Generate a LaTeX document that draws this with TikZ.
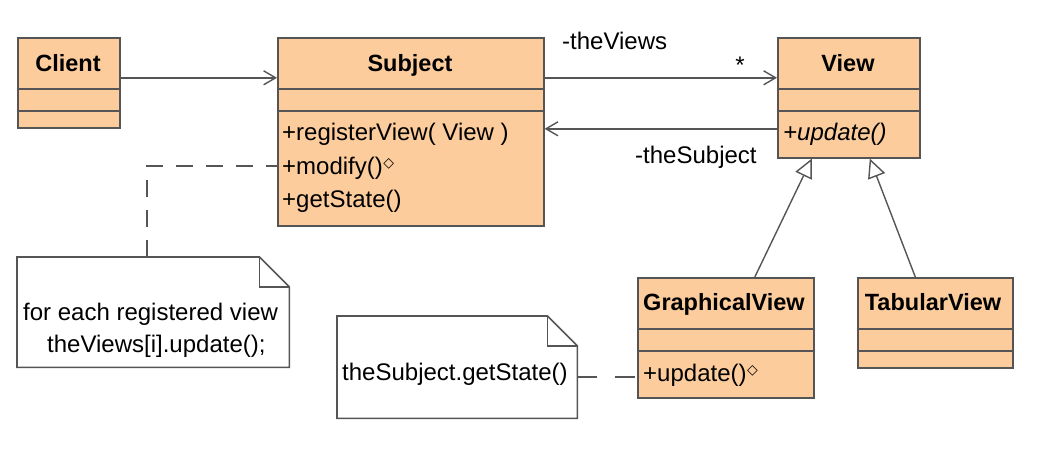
\documentclass[tikz,border=0pt]{standalone}
\usepackage{fontspec}
\setmainfont{Liberation Sans}
\newfontfamily\symf{DejaVu Sans}
\usetikzlibrary{arrows.meta}
\definecolor{peach}{RGB}{252,204,156}
\definecolor{edge}{RGB}{85,85,85}
\newcommand{\opmark}{\kern0.5pt{\symf\fontsize{14}{14}\selectfont\raisebox{6.5pt}{◇}}}
\begin{document}
\begin{tikzpicture}[x=1pt,y=-1pt,
  font=\fontsize{24}{28}\selectfont,
  cls/.style={draw=edge, fill=peach, line width=1.6pt, anchor=north west, inner sep=0pt},
  divider/.style={draw=edge, line width=1.6pt},
  ctitle/.style={font=\fontsize{23.5}{28}\selectfont\bfseries, anchor=base, inner sep=0pt},
  member/.style={anchor=base west, inner sep=0pt},
  lbl/.style={anchor=base west, inner sep=0pt},
  assoc/.style={draw=edge, line width=1.6pt, -{Straight Barb[length=12pt,width=14pt,line width=1.4pt]}},
  inh/.style={draw=edge, line width=1.4pt, -{Triangle[open,fill=white,length=19pt,width=18pt,line width=1.4pt]}},
  notelink/.style={draw=edge, line width=1.6pt, dash pattern=on 17pt off 13pt},
  notelinkb/.style={draw=edge, line width=1.6pt, dash pattern=on 20pt off 18pt},
  notebox/.style={anchor=north west, inner sep=0pt},
  noteline/.style={draw=edge, line width=1.6pt, fill=white, line join=miter}]
\useasboundingbox (0,0) rectangle (1044,452);

% ---------- Client ----------
\node[cls, minimum width=102pt, minimum height=90pt] (client) at (17,37) {};
\draw[divider] (17,89) -- (119,89);
\draw[divider] (17,111) -- (119,111);
\node[ctitle] (clientT) at (68,71) {Client};

% ---------- Subject ----------
\node[cls, minimum width=266pt, minimum height=188pt] (subject) at (277,37) {};
\draw[divider] (277,89) -- (543,89);
\draw[divider] (277,111) -- (543,111);
\node[ctitle] (subjectT) at (410,71) {Subject};
\node[member] (m1) at (282,140) {+registerView( View )};
\node[member] (m2) at (282,174) {+modify()\opmark};
\node[member] (m3) at (282,207) {+getState()};

% ---------- View ----------
\node[cls, minimum width=142pt, minimum height=120pt] (view) at (777,37) {};
\draw[divider] (777,89) -- (919,89);
\draw[divider] (777,111) -- (919,111);
\node[ctitle] (viewT) at (848,71) {View};
\node[member] (v1) at (783,140) {\itshape +update()};

% ---------- GraphicalView ----------
\node[cls, minimum width=176pt, minimum height=120pt] (gview) at (637,277) {};
\draw[divider] (637,329) -- (813,329);
\draw[divider] (637,351) -- (813,351);
\node[ctitle] (gviewT) at (724,310) {GraphicalView};
\node[member] (g1) at (643,381) {+update()\opmark};

% ---------- TabularView ----------
\node[cls, minimum width=155pt, minimum height=90pt] (tview) at (857,277) {};
\draw[divider] (857,329) -- (1012,329);
\draw[divider] (857,351) -- (1012,351);
\node[ctitle] (tviewT) at (933,310) {TabularView};

% ---------- Notes ----------
\node[notebox, minimum width=272pt, minimum height=110pt] (note1) at (17,257) {};
\draw[noteline] (note1.north west) -- ([xshift=-30pt]note1.north east)
  -- ([yshift=-30pt]note1.north east) -- (note1.south east) -- (note1.south west) -- cycle;
\draw[noteline, fill=none] ([xshift=-30pt]note1.north east) |- ([yshift=-30pt]note1.north east);
\node[lbl] (n1a) at (23,320) {for each registered view};
\node[lbl] (n1b) at (47,352) {theViews[i].update();};

\node[notebox, minimum width=240pt, minimum height=102pt] (note2) at (337,316) {};
\draw[noteline] (note2.north west) -- ([xshift=-30pt]note2.north east)
  -- ([yshift=-30pt]note2.north east) -- (note2.south east) -- (note2.south west) -- cycle;
\draw[noteline, fill=none] ([xshift=-30pt]note2.north east) |- ([yshift=-30pt]note2.north east);
\node[lbl] (n2a) at (342,380) {theSubject.getState()};

% ---------- Associations ----------
\draw[assoc] ([yshift=5pt]client.east) -- ([yshift=5pt]client.east -| subject.west);
\draw[assoc] ([yshift=20pt]view.west -| subject.east) -- ([yshift=20pt]view.west);
\draw[assoc] ([yshift=-31pt]view.west) -- ([yshift=-31pt]view.west -| subject.east);
\node[lbl] (lviews) at (562,50) {-theViews};
\node[anchor=base, inner sep=0pt] (lstar) at (740,74) {*};
\node[lbl] (lsubj) at (635,163) {-theSubject};

% ---------- Generalisations ----------
\draw[inh] ([xshift=29pt]gview.north) -- ([xshift=-37pt]view.south);
\draw[inh] ([xshift=-20pt]tview.north) -- ([xshift=21pt]view.south);

% ---------- Note links ----------
\draw[notelink] ([xshift=-6pt]note1.north) |- ([yshift=-34pt]subject.west);
\draw[notelinkb] ([yshift=-10pt]note2.east) -- ([yshift=-10pt]note2.east -| gview.west);
\end{tikzpicture}
\end{document}
